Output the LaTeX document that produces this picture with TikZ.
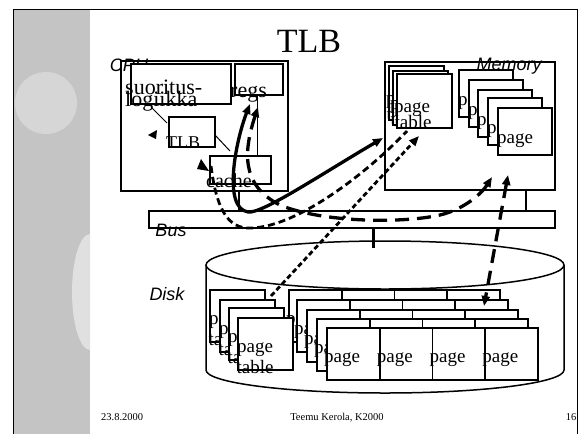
\documentclass[tikz,border=0pt]{standalone}
\usepackage{fontspec}
\setmainfont{Liberation Serif}
\setsansfont{Liberation Sans}
\usetikzlibrary{arrows.meta}
\definecolor{band}{RGB}{196,196,196}
\definecolor{circg}{RGB}{214,214,214}
\definecolor{ellg}{RGB}{224,224,224}
\begin{document}
\begin{tikzpicture}[x=1pt,y=-1pt,
  box/.style={draw,line width=1.8pt,fill=white,inner sep=0pt,anchor=north west},
  pagetxt/.style={font=\fontsize{19}{19}\selectfont,anchor=base,inner sep=0pt},
  lbl/.style={font=\sffamily\itshape\fontsize{18}{18}\selectfont,anchor=base,inner sep=0pt},
  txt/.style={anchor=base,inner sep=0pt},
  thinline/.style={line width=1pt},
  conn/.style={line width=2.4pt},
  solidc/.style={line width=3.3pt},
  longdash/.style={line width=3.3pt,dash pattern=on 14pt off 8pt},
  middash/.style={line width=2.8pt,dash pattern=on 7pt off 4pt},
  shortdash/.style={line width=2.8pt,dash pattern=on 5pt off 3pt},
  >={Triangle[length=10pt,width=8pt]}
]
\useasboundingbox (0,0) rectangle (585,434);
\fill[white] (0,0) rectangle (585,434);
% slide background
\fill[band] (14,9) rectangle (90,434);
\fill[circg] (46,103) circle (31pt);
\begin{scope}
  \clip (14,0) rectangle (90,434);
  \fill[ellg] (90,292) ellipse (18pt and 58pt);
\end{scope}
\draw[line width=1pt] (13.5,434) -- (13.5,9) -- (577,9) -- (577,434);

% title
\node[txt,font=\fontsize{34}{34}\selectfont] (title) at (309,52) {TLB};

% CPU
\node[box,minimum width=167pt,minimum height=130pt] (cpu) at (120,60) {};
\node[lbl] (cpulbl) at (129,71) {CPU};
\node[box,minimum width=100pt,minimum height=40pt] (exec) at (130,63) {};
\node[box,minimum width=48pt,minimum height=31pt] (regs) at (234,63) {};
\node[box,minimum width=46pt,minimum height=30pt] (tlb) at (168,116) {};
\node[box,minimum width=61pt,minimum height=28pt] (cache) at (209,155) {};
\node[txt,anchor=base west,font=\fontsize{22}{22}\selectfont] (exect1) at (125,94) {suoritus-};
\node[txt,anchor=base west,font=\fontsize{22}{22}\selectfont] (exect2) at (125,106) {logiikka};
\node[txt,anchor=base west,font=\fontsize{22}{22}\selectfont] (regst) at (230,97) {regs};
\node[txt,anchor=base west,font=\fontsize{18}{18}\selectfont] (tlbt) at (166,148) {TLB};
\node[txt,anchor=base west,font=\fontsize{20}{20}\selectfont] (cachet) at (206,187) {cache};
\coordinate (e1) at (151,107);
\coordinate (t1) at (167,123);
\coordinate (t2) at (215,135);
\coordinate (c1) at (230,151);
\coordinate (rc) at (257,0);
\coordinate (cb) at (239,0);
\draw[thinline] (e1) -- (t1);
\draw[thinline] (t2) -- (c1);
\draw[thinline] (regs.south -| rc) -- (cache.north -| rc);

% Memory
\node[box,minimum width=170pt,minimum height=128pt] (mem) at (384,61) {};
\node[lbl] (memlbl) at (509,70) {Memory};
\foreach \x/\y [count=\i] in {388/65,392/70,396/73}{
  \node[box,minimum width=55pt,minimum height=54pt] (mpt\i) at (\x,\y) {};
  \node[pagetxt] (mptp\i) at (\x+16,\y+39) {page};
  \node[pagetxt] (mptt\i) at (\x+17,\y+55) {table};
}
\foreach \x/\y [count=\i] in {458/69,468/79,477/89,487/97,497/107}{
  \node[box,minimum width=54pt,minimum height=47pt] (mp\i) at (\x,\y) {};
  \node[pagetxt] (mpt\i) at (\x+18,\y+36) {page};
}

% Bus
\node[box,minimum width=406pt,minimum height=17pt] (bus) at (148,210) {};
\node[lbl] (buslbl) at (171,236) {Bus};
\coordinate (mb) at (526,0);
\coordinate (db) at (373,0);
\draw[line width=1.8pt] (cpu.south -| cb) -- (bus.north -| cb);
\draw[conn] (mem.south -| mb) -- (bus.north -| mb);

% Disk
\draw[line width=1.5pt,fill=white] (206,265) -- (206,370) arc[start angle=180,end angle=360,x radius=179pt,y radius=23pt] -- (564,265);
\draw[line width=1.5pt,fill=white] (385,265) ellipse (179pt and 24pt);
\coordinate (dtop) at (373,248);
\draw[conn,line width=3pt] (bus.south -| db) -- (dtop);
\node[lbl] (disklbl) at (167,300) {Disk};

\foreach \lx/\ly [count=\L] in {288/289,296/299,306/309,316/318,326/327}{
  \foreach \k in {0,...,3}{
    \node[box,minimum width=52.75pt,minimum height=52pt] (dp\L\k) at (\lx+\k*52.75,\ly) {};
  }
  \foreach \k in {0,...,3}{
    \node[pagetxt] (dpt\L\k) at (\lx+\k*52.75+16,\ly+35) {page};
  }
}
\foreach \x/\y [count=\i] in {209/289,219/299,228/307,237/317}{
  \node[box,minimum width=55pt,minimum height=52pt] (dpt\i) at (\x,\y) {};
  \node[pagetxt] (dptp\i) at (\x+18,\y+35) {page};
  \node[pagetxt] (dptt\i) at (\x+18,\y+56) {table};
}

% stray arrowheads
\fill (148,135) -- (157,130) -- (156,139) -- cycle;
\fill (197,169) -- (209,171) -- (201,159) -- cycle;

% flows
\coordinate (aR) at (250,104);
\coordinate (aB) at (248,212);
\coordinate (aM) at (383,138);
\draw[solidc,<->] (aR) .. controls (236,140) and (222,208) .. (aB) .. controls (262,214) and (320,175) .. (aM);

\coordinate (bS) at (211,166);
\coordinate (bB) at (252,228);
\coordinate (bM) at (407,131);
\draw[middash] (bS) .. controls (216,205) and (226,230) .. (bB) .. controls (300,226) and (370,170) .. (bM);

\coordinate (cR) at (258,107);
\coordinate (cB) at (280,205);
\coordinate (cC) at (440,215);
\coordinate (cM) at (492,177);
\draw[longdash,<->] (cR) .. controls (244,150) and (240,185) .. (cB) .. controls (320,222) and (400,224) .. (cC) .. controls (465,209) and (482,193) .. (cM);

\coordinate (dD) at (271,296);
\coordinate (dM) at (419,136);
\draw[shortdash,->] (dD) -- (dM);

\coordinate (eM) at (508,175);
\coordinate (eD) at (484,306);
\draw[longdash,<->] (eM) -- (eD);

% footer
\node[txt,anchor=base west,font=\fontsize{10.5}{12}\selectfont] (date) at (101,420) {23.8.2000};
\node[txt,font=\fontsize{10.5}{12}\selectfont] (author) at (337,420) {Teemu Kerola, K2000};
\node[txt,font=\fontsize{10.5}{12}\selectfont] (pnum) at (571,420) {16};
\end{tikzpicture}
\end{document}
